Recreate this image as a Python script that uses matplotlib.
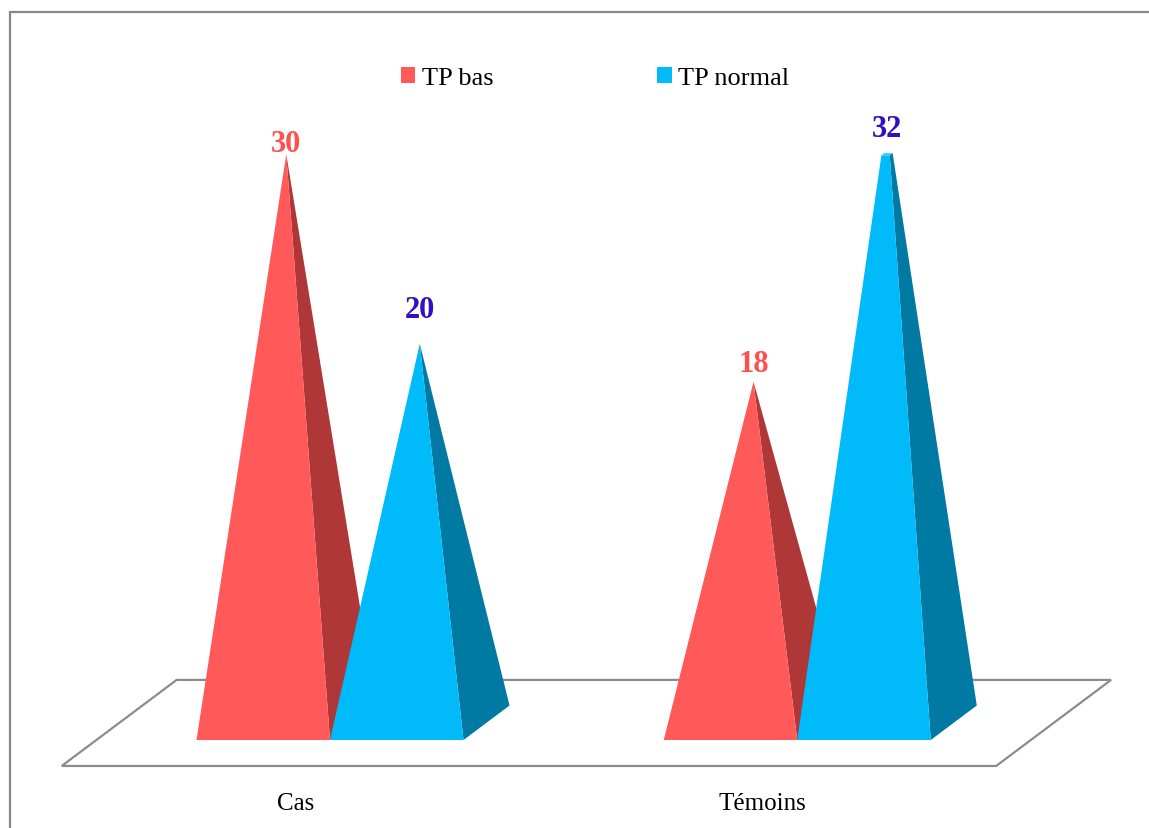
import matplotlib.pyplot as plt
from matplotlib.patches import Polygon, Patch, Rectangle

plt.rcParams['font.family'] = ['Liberation Serif', 'DejaVu Serif']

categories = ['Cas', 'Témoins']
series = ['TP bas', 'TP normal']
values = {
    'TP bas': [30, 18],
    'TP normal': [20, 32],
}
axis_max = 30  # value axis stops here, taller pyramids get cut flat

face_colors = {'TP bas': '#FF5959', 'TP normal': '#00BAFA'}
side_colors = {'TP bas': '#B03737', 'TP normal': '#0079A3'}
top_colors = {'TP bas': '#FF8A8A', 'TP normal': '#35CCFF'}
label_colors = {'TP bas': '#FF5050', 'TP normal': '#3010C0'}
# gap (px) between the tip of each pyramid and the baseline of its label
label_gap = {'TP bas': [3, 11], 'TP normal': [27, 18]}

# 3d look: one unit of depth moves things right and up
slot = 3.5          # spacing between category groups (bar widths)
bar_w = 1.0
ddx, ddy = 0.345, 1.82
floor_front, floor_back = -0.753, 1.742


def proj(x, d, h):
    return (x + d * ddx, h + d * ddy)


fig = plt.figure(figsize=(11.49, 8.29), dpi=100)
ax = fig.add_axes([0, 0, 1, 1])
ax.set_xlim(-2.472, 6.135)
ax.set_ylim(-4.644, 39.10)
ax.axis('off')

# floor
x0, x1 = -0.5 * slot, (len(categories) - 0.5) * slot
floor = [proj(x0, floor_front, 0), proj(x1, floor_front, 0),
         proj(x1, floor_back, 0), proj(x0, floor_back, 0)]
ax.add_patch(Polygon(floor, closed=True, fc='white', ec='#8C8C8C', lw=1.6, zorder=1))

z = 2
for i, cat in enumerate(categories):
    center = i * slot
    for j, s in enumerate(series):
        v = values[s][i]
        left = center - bar_w + j * bar_w
        right = left + bar_w
        xc = left + bar_w / 2
        apex = (xc, 0.5, v)
        t = min(v, axis_max) / v

        def cut(c):
            return tuple(c[k] + t * (apex[k] - c[k]) for k in range(3))

        fl, fr = (left, 0, 0), (right, 0, 0)
        br, bl = (right, 1, 0), (left, 1, 0)
        tfl, tfr, tbr, tbl = cut(fl), cut(fr), cut(br), cut(bl)

        side = [proj(*p) for p in (fr, br, tbr, tfr)]
        front = [proj(*p) for p in (fl, fr, tfr, tfl)]
        ax.add_patch(Polygon(side, closed=True, fc=side_colors[s], ec='none', zorder=z))
        ax.add_patch(Polygon(front, closed=True, fc=face_colors[s], ec='none', zorder=z + 1))
        if t < 1:
            top = [proj(*p) for p in (tfl, tfr, tbr, tbl)]
            ax.add_patch(Polygon(top, closed=True, fc=top_colors[s], ec='none', zorder=z + 2))
        z += 3

        lx, ly = proj(xc, 0.5, min(v, axis_max))
        ax.annotate(str(v), (lx, ly), xytext=(0, label_gap[s][i] * 0.72),
                    textcoords='offset points', ha='center', va='baseline',
                    fontsize=22, fontweight='bold', color=label_colors[s], zorder=50)

    tx, ty = proj(center, floor_front, 0)
    ax.text(tx, ty - 1.95, cat, ha='center', va='center', fontsize=18, color='black')

handles = [Patch(facecolor=face_colors[s], edgecolor='none', label=s) for s in series]
fig.legend(handles=handles, loc='center', bbox_to_anchor=(595 / 1149, 1 - 79 / 829),
           ncol=2, frameon=False, fontsize=19, handlelength=0.55, handleheight=0.55,
           handletextpad=0.25, columnspacing=6.2, borderpad=0)

# chart area border (runs off the right and bottom)
fig.patches.append(Rectangle((10 / 1149, -0.1), 2, 1 - 13 / 829 + 0.1,
                             transform=fig.transFigure, fill=False,
                             ec='#878787', lw=1.6))

fig.savefig('out.png', dpi=100)
